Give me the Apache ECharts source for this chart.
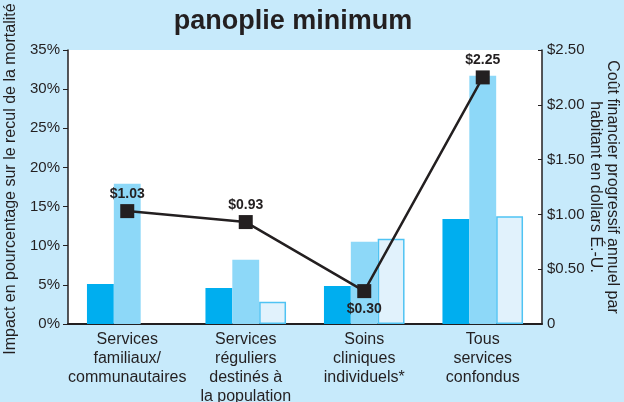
<!DOCTYPE html>
<html>
<head>
<meta charset="utf-8">
<script src="https://cdn.jsdelivr.net/npm/echarts@6/dist/echarts.min.js"></script>
<style>
  html, body { margin: 0; padding: 0; background: #c7eafb; }
  #chart { width: 624px; height: 402px; }
</style>
</head>
<body>
<div id="chart"></div>
<script>
// données
const categories = [
  'Services\nfamiliaux/\ncommunautaires',
  'Services\nréguliers\ndestinés à\nla population',
  'Soins\ncliniques\nindividuels*',
  'Tous\nservices\nconfondus'
]
const impactA = [5.1, 4.6, 4.85, 13.4]
const impactB = [17.9, 8.2, 10.5, 31.7]
const impactC = [null, 2.85, 10.9, 13.75]
const coutParHabitant = [1.03, 0.93, 0.30, 2.25]

const ink = '#231f20'
const font = 'Liberation Sans'

const chart = echarts.init(document.getElementById('chart'))

const option = {
  backgroundColor: '#c7eafb',
  textStyle: { fontFamily: font, color: ink },
  title: {
    text: 'panoplie minimum',
    left: 288,
    textAlign: 'center',
    top: 3,
    textStyle: { fontFamily: font, fontSize: 27, fontWeight: 'bold', color: ink }
  },
  grid: {
    left: 68, right: 82, top: 50, bottom: 78,
    outerBoundsMode: 'none', containLabel: false,
    show: true, backgroundColor: '#fff', borderWidth: 0
  },
  xAxis: {
    type: 'category',
    data: categories,
    axisLine: { lineStyle: { color: ink, width: 2 } },
    axisTick: { show: false },
    axisLabel: { interval: 0, fontSize: 16, lineHeight: 19, color: ink, margin: 6, fontFamily: font }
  },
  yAxis: [
    {
      type: 'value', min: 0, max: 35, interval: 5,
      name: 'Impact en pourcentage sur le recul de la mortalité',
      nameLocation: 'middle', nameRotate: 90, nameGap: 43,
      nameTextStyle: { fontSize: 16, color: ink, fontFamily: font, padding: [0, 0, 0, 16] },
      axisLine: { show: true, lineStyle: { color: ink, width: 1.5 } },
      axisTick: { show: true, length: 5, lineStyle: { color: ink } },
      splitLine: { show: false },
      axisLabel: { formatter: '{value}%', fontSize: 15, color: ink, margin: 8, fontFamily: font }
    },
    {
      type: 'value', min: 0, max: 2.5, interval: 0.5, position: 'right',
      name: 'Coût financier progressif annuel par\nhabitant en dollars É.-U.',
      nameLocation: 'middle', nameRotate: -90, nameGap: 45, nameMoveOverlap: false,
      nameTextStyle: { fontSize: 16, color: ink, lineHeight: 17, fontFamily: font },
      axisLine: { show: true, lineStyle: { color: ink, width: 1.5 } },
      axisTick: { show: true, inside: true, length: 4, lineStyle: { color: ink } },
      splitLine: { show: false },
      axisLabel: {
        formatter: v => v === 0 ? '0' : '$' + v.toFixed(2),
        fontSize: 15, color: ink, margin: 5, fontFamily: font
      }
    }
  ],
  series: [
    {
      type: 'bar', data: impactA, barGap: '0%', barCategoryGap: '32%',
      itemStyle: { color: '#00aeef' }
    },
    {
      type: 'bar', data: impactB,
      itemStyle: { color: '#8dd8f8' }
    },
    {
      type: 'bar', data: impactC,
      itemStyle: { color: '#e1f2fc', borderColor: '#4fc3f3', borderWidth: 1.5 }
    },
    {
      type: 'line', yAxisIndex: 1,
      data: coutParHabitant.map((v, i) => ({
        value: v,
        label: i === 2 ? { position: 'bottom', distance: 4 } : undefined
      })),
      symbol: 'rect', symbolSize: 14,
      lineStyle: { color: ink, width: 2.5 },
      itemStyle: { color: ink },
      label: {
        show: true, position: 'top', distance: 3,
        formatter: p => '$' + p.value.toFixed(2),
        fontSize: 14, fontWeight: 'bold', color: ink, fontFamily: font
      },
      z: 5
    }
  ]
}

chart.setOption(option)
</script>
</body>
</html>
